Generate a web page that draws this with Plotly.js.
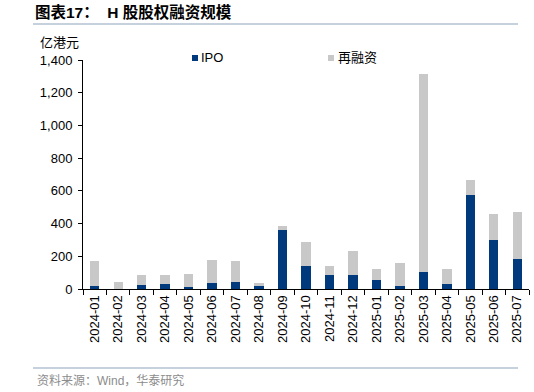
<!DOCTYPE html>
<html>
<head>
<meta charset="utf-8">
<script src="https://cdn.plot.ly/plotly-3.0.1.min.js"></script>
<style>html,body{margin:0;padding:0;background:#fff;}#chart{width:534px;height:392px;}</style>
</head>
<body>
<div id="chart"></div>
<script>
var months = ["2024-01","2024-02","2024-03","2024-04","2024-05","2024-06","2024-07","2024-08","2024-09","2024-10","2024-11","2024-12","2025-01","2025-02","2025-03","2025-04","2025-05","2025-06","2025-07"];
var ipo   = [18, 0, 24, 29, 14, 35, 45, 16, 359, 143, 88, 86, 57, 16, 106, 29, 575, 302, 184];
var refin = [151, 45, 60, 57, 80, 145, 124, 21, 29, 144, 53, 147, 67, 143, 1206, 91, 94, 159, 289];
var seriesNames = ["IPO", "再融资"];
var colors = ["#003A7D", "#C8C8C8"];

var W = 534, H = 392;
var L = 83, R = 5, T = 60, B = 103;
var pw = W - L - R, ph = H - T - B;
function px(x){ return (x - L) / pw; }
function py(y){ return (H - B - y) / ph; }

var font = "Liberation Sans, Arial, Noto Sans CJK SC, sans-serif";
var cjk = "Liberation Sans, Noto Sans CJK SC, sans-serif";

var traces = [
  {type:"bar", name:seriesNames[0], x:months, y:ipo, marker:{color:colors[0]}},
  {type:"bar", name:seriesNames[1], x:months, y:refin, marker:{color:colors[1]}}
];

var layout = {
  width: W, height: H,
  margin: {l:L, r:R, t:T, b:B, pad:0},
  paper_bgcolor:"#fff", plot_bgcolor:"#fff",
  barmode:"stack", bargap:0.6,
  showlegend:false,
  font:{family:font, size:13, color:"#000"},
  title:{text:"<b>图表17：  H 股股权融资规模</b>", x:35/W, xanchor:"left", y:1-13/H, yanchor:"middle", font:{family:cjk, size:15.5, color:"#000"}},
  xaxis:{type:"category", tickangle:-90, ticks:"outside", tickson:"boundaries", ticklen:5, tickcolor:"#000",
         showline:true, linecolor:"#000", linewidth:1, showgrid:false, zeroline:false,
         tickfont:{family:font, size:13, color:"#000"}},
  yaxis:{range:[0,1400], dtick:200, tickformat:",d", ticks:"outside", ticklen:4, tickcolor:"#000",
         ticklabelstandoff:3,
         showline:true, linecolor:"#000", linewidth:1, showgrid:false, zeroline:false,
         tickfont:{family:font, size:13, color:"#000"}},
  shapes:[
    {type:"line", xref:"paper", yref:"paper", x0:px(33), x1:px(518), y0:py(24), y1:py(24), line:{color:"#8EA3BD", width:1}},
    {type:"line", xref:"paper", yref:"paper", x0:px(33), x1:px(518), y0:py(368), y1:py(368), line:{color:"#8EA3BD", width:1}},
    {type:"rect", xref:"paper", yref:"paper", x0:px(192), x1:px(198), y0:py(61), y1:py(55), fillcolor:colors[0], line:{width:0}},
    {type:"rect", xref:"paper", yref:"paper", x0:px(328), x1:px(334), y0:py(61), y1:py(55), fillcolor:colors[1], line:{width:0}}
  ],
  annotations:[
    {text:"亿港元", xref:"paper", yref:"paper", x:px(38), y:py(42), xanchor:"left", yanchor:"middle", showarrow:false, font:{family:cjk, size:13, color:"#000"}},
    {text:seriesNames[0], xref:"paper", yref:"paper", x:px(199), y:py(58), xanchor:"left", yanchor:"middle", showarrow:false, font:{family:font, size:13, color:"#000"}},
    {text:seriesNames[1], xref:"paper", yref:"paper", x:px(336), y:py(58), xanchor:"left", yanchor:"middle", showarrow:false, font:{family:cjk, size:13, color:"#000"}},
    {text:"资料来源：Wind，华泰研究", xref:"paper", yref:"paper", x:px(35), y:py(380), xanchor:"left", yanchor:"middle", showarrow:false, font:{family:cjk, size:12, color:"#8C8C8C"}}
  ]
};

Plotly.newPlot("chart", traces, layout, {displayModeBar:false, staticPlot:true});
</script>
</body>
</html>
